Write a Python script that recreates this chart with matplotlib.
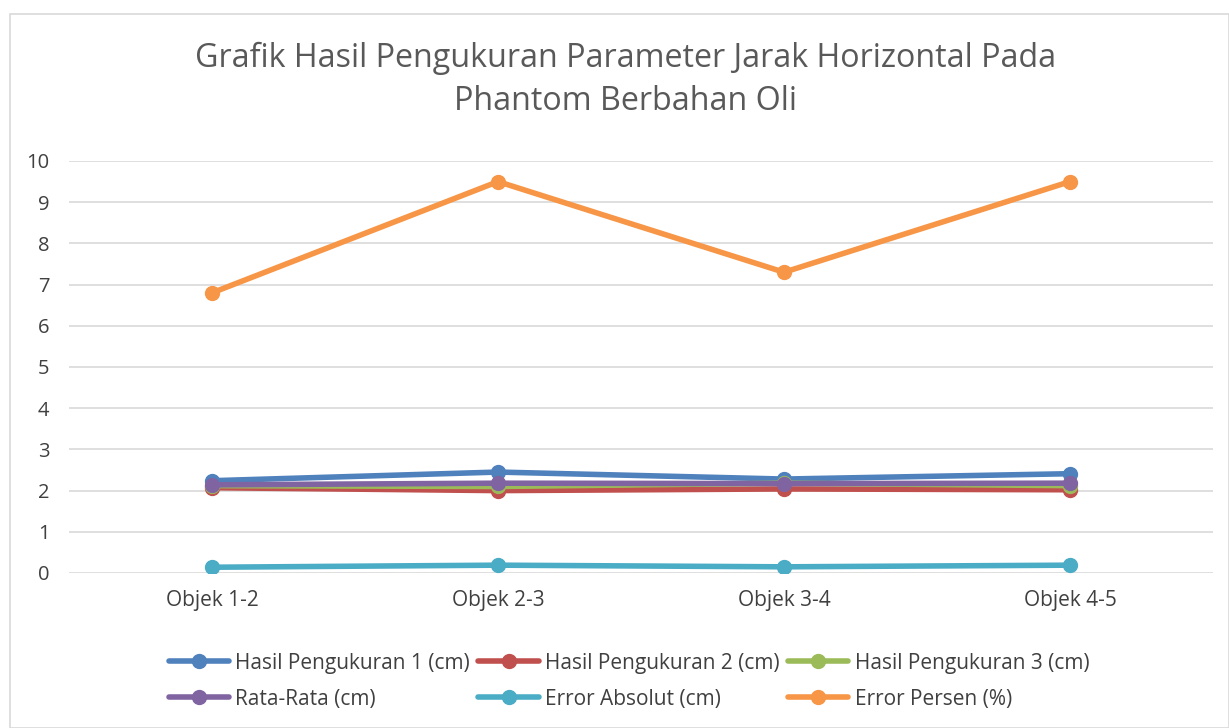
import matplotlib
matplotlib.use("Agg")
import matplotlib.pyplot as plt
from matplotlib.patches import Rectangle

categories = ["Objek 1-2", "Objek 2-3", "Objek 3-4", "Objek 4-5"]
hasil1 = [2.24, 2.45, 2.28, 2.41]
hasil2 = [2.07, 2.00, 2.04, 2.02]
hasil3 = [2.12, 2.10, 2.18, 2.12]
rata = [2.14, 2.18, 2.17, 2.18]
err_abs = [0.14, 0.19, 0.15, 0.19]
err_pct = [6.8, 9.5, 7.3, 9.5]

labels = ["Hasil Pengukuran 1 (cm)", "Hasil Pengukuran 2 (cm)", "Hasil Pengukuran 3 (cm)",
          "Rata-Rata (cm)", "Error Absolut (cm)", "Error Persen (%)"]
series = [hasil1, hasil2, hasil3, rata, err_abs, err_pct]
colors = ["#4F81BD", "#C0504D", "#9BBB59", "#8064A2", "#4BACC6", "#F79646"]

plt.rcParams['font.family'] = ['Open Sans', 'DejaVu Sans']

fig = plt.figure(figsize=(12.29, 7.28), dpi=100)
fig.patches.append(Rectangle((10/1229, 0), 1 - 10/1229, 1 - 14/728,
                             transform=fig.transFigure, fill=False,
                             edgecolor="#D9D9D9", linewidth=1.2))
ax = fig.add_axes([69/1229, 1 - 573/728, (1213 - 69)/1229, (573 - 161)/728])

x = list(range(len(categories)))
handles = []
for vals, lab, c in zip(series, labels, colors):
    h, = ax.plot(x, vals, color=c, linewidth=4, marker="o", markersize=10,
                 label=lab, solid_capstyle="round")
    handles.append(h)

ax.set_xlim(-0.5, 3.5)
ax.set_ylim(0, 10)
ax.set_yticks(range(0, 11))
ax.set_xticks(x)
ax.set_xticklabels(categories)
ax.grid(axis="y", color="#D9D9D9", linewidth=1.2)
ax.set_axisbelow(True)
for s in ax.spines.values():
    s.set_visible(False)
ax.tick_params(axis="y", length=0, labelsize=14.5, colors="#404040", pad=14)
ax.tick_params(axis="x", length=0, labelsize=15, colors="#404040", pad=12)

title_x = 626 / 1229
fig.text(title_x, 1 - 58/728, "Grafik Hasil Pengukuran Parameter Jarak Horizontal Pada",
         ha="center", va="center", fontsize=23.2, color="#595959")
fig.text(title_x, 1 - 101/728, "Phantom Berbahan Oli",
         ha="center", va="center", fontsize=23.2, color="#595959")

# row-major order for a 3-column legend
order = [0, 3, 1, 4, 2, 5]
leg = fig.legend(handles=[handles[i] for i in order], loc="center", ncol=3,
                 bbox_to_anchor=(629/1229, 1 - 681/728), frameon=False,
                 fontsize=15, handlelength=2.9, columnspacing=0.4,
                 handletextpad=0.3, labelspacing=0.72, labelcolor="#404040")

fig.savefig("out.png", dpi=100)
